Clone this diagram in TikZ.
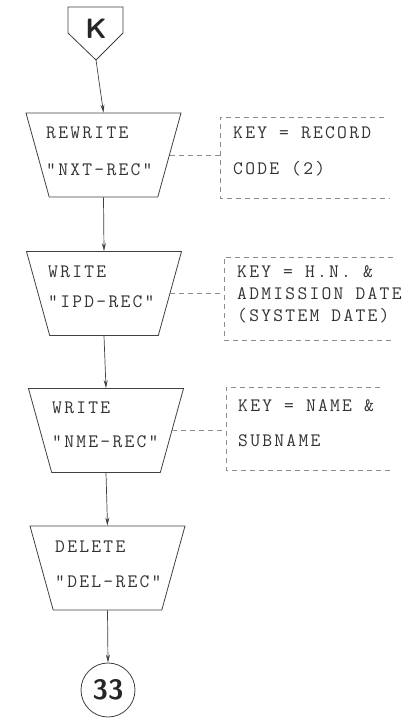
\documentclass[tikz,border=0pt]{standalone}
\usepackage{fontspec}
\setmonofont{Latin Modern Mono}[LetterSpace=12]
\usetikzlibrary{shapes.geometric,arrows.meta}

\tikzset{
  manop/.style={draw=black!75, line width=0.8pt, trapezium, shape border rotate=180,
    trapezium stretches=true, minimum width=155pt, minimum height=84pt,
    trapezium angle=74, inner sep=0pt},
  typed/.style={font=\ttfamily\fontsize{19}{22}\selectfont, text=black!80,
    align=left, inner sep=0pt, anchor=north west},
  heavy/.style={font=\sffamily\bfseries\fontsize{28}{28}\selectfont, text=black!85},
  note/.style={draw=black!45, dash pattern=on 5pt off 4pt, line width=0.6pt},
  flow/.style={draw=black!75, line width=0.7pt, -{Stealth[length=8pt,width=4pt]}}
}

\begin{document}
\begin{tikzpicture}[x=1pt,y=-1pt]
\useasboundingbox (0,0) rectangle (416,726);

% CONNECTORS
% entry K
\draw[draw=black!75, line width=0.8pt] (68,7) -- (123,7) -- (123,33) -- (96,60) -- (68,33) -- cycle;
\coordinate (ktip) at (96,60);
\node[heavy] (K) at (96,29) {K};
% exit 33
\node[heavy, draw=black!75, line width=0.8pt, circle, minimum size=54pt, inner sep=0pt] (c33) at (108,690) {33};

% FILE OPERATIONS
\node[manop] (nxt) at (103.5,155) {\phantom{M}};
\node[manop] (ipd) at (104,293.5) {\phantom{M}};
\node[manop] (nme) at (106,430.5) {\phantom{M}};
\node[manop] (del) at (107.5,568) {\phantom{M}};

\node[typed] (nxtlbl) at (46,127) {REWRITE\\[15pt]"NXT-REC"};
\node[typed] (ipdlbl) at (48,266) {WRITE\\[8pt]"IPD-REC"};
\node[typed] (nmelbl) at (52,402) {WRITE\\[12pt]"NME-REC"};
\node[typed] (dellbl) at (55,541) {DELETE\\[13pt]"DEL-REC"};

% FLOW
\draw[flow] (ktip) -- (nxt.north);
\draw[flow] (nxt.south) -- (ipd.north);
\draw[flow] (ipd.south) -- (nme.north);
\draw[flow] (nme.south) -- (del.north);
\draw[flow] (del.south) -- (c33.north);

% ANNOTATIONS
% record code key
\coordinate (keya) at (220,117);
\draw[note] (384,117) -- (keya) -- (220,198) -- (390,198);
\node[typed] (keyalbl) at (233,126) {KEY = RECORD\\[14pt]CODE (2)};
\draw[note] (nxt.east) -- (nxt.east -| keya);
% admission key
\coordinate (keyb) at (224,257);
\draw[note] (393,257) -- (keyb) -- (224,340) -- (393,340);
\node[typed] (keyblbl) at (237,265) {KEY = H.N. \&\\ADMISSION DATE\\(SYSTEM DATE)};
\draw[note] (ipd.east) -- (ipd.east -| keyb);
% name key
\coordinate (keyc) at (226,387);
\draw[note] (380,387) -- (keyc) -- (226,470) -- (390,470);
\node[typed] (keyclbl) at (238,399) {KEY = NAME \&\\[13pt]SUBNAME};
\draw[note] (nme.east) -- (nme.east -| keyc);

\end{tikzpicture}
\end{document}
